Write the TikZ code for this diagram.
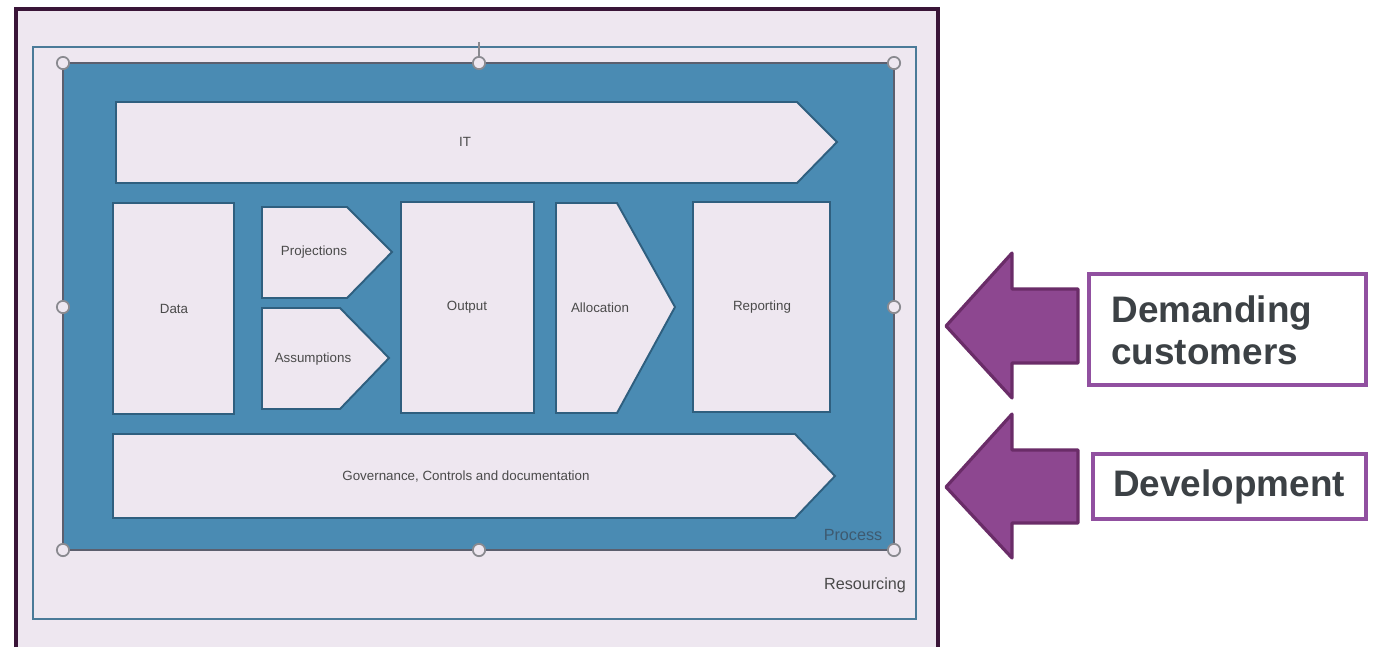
\documentclass[tikz,border=0pt]{standalone}
\usepackage{fontspec}
\setmainfont{Liberation Sans}
\begin{document}
\definecolor{lav}{HTML}{EEE7F0}
\definecolor{procblue}{HTML}{4A8BB3}
\definecolor{boxedge}{HTML}{2F5F7F}
\definecolor{frameedge}{HTML}{3A1538}
\definecolor{resedge}{HTML}{4A7A98}
\definecolor{procedge}{HTML}{5C5F6E}
\definecolor{handleedge}{HTML}{8A8A90}
\definecolor{lbl}{HTML}{4A4A4A}
\definecolor{proclbl}{HTML}{3E5A70}
\definecolor{arrfill}{HTML}{8D4790}
\definecolor{arredge}{HTML}{6A2C68}
\definecolor{tagedge}{HTML}{9150A0}
\definecolor{tagtext}{HTML}{3C4145}
\begin{tikzpicture}[x=0.02cm,y=-0.02cm,
  stagebox/.style={fill=lav,draw=boxedge,line width=1.1pt,line join=miter},
  handle/.style={circle,minimum size=7pt,inner sep=0pt,fill=lav,draw=handleedge,line width=1pt},
  smalllbl/.style={text=lbl,font=\fontsize{7.6}{9}\selectfont,inner sep=0pt},
  cornerlbl/.style={text=lbl,font=\fontsize{9.2}{11}\selectfont,inner sep=0pt},
  bigarrow/.style={fill=arrfill,draw=arredge,line width=1.8pt,line join=round},
  tagbox/.style={draw=tagedge,line width=2.2pt,fill=white},
  tagtxt/.style={text=tagtext,font=\bfseries\fontsize{21}{25}\selectfont,inner sep=0pt,align=left}]
\useasboundingbox (0,0) rectangle (1375,647);
\fill[white] (0,0) rectangle (1375,647);

% slide frame
\fill[lav] (16,9) rectangle (938,647);
\draw[frameedge,line width=2.8pt] (16,647) -- (16,9) -- (938,9) -- (938,647);

% resourcing frame
\draw[resedge,line width=1.2pt] (33,47) rectangle (916,619);

% process area
\draw[procedge,line width=1.1pt,fill=procblue] (63,63) rectangle (894,550);
\draw[handleedge,line width=0.6pt] (479,42) -- (479,57);

% stages
\draw[stagebox] (116,102) -- (797,102) -- (837,142) -- (797,183) -- (116,183) -- cycle;
\draw[stagebox] (113,203) rectangle (234,414);
\draw[stagebox] (262,207) -- (347,207) -- (392,252) -- (347,298) -- (262,298) -- cycle;
\draw[stagebox] (262,308) -- (340,308) -- (389,358) -- (340,409) -- (262,409) -- cycle;
\draw[stagebox] (401,202) rectangle (534,413);
\draw[stagebox] (556,203) -- (617,203) -- (675,307) -- (617,413) -- (556,413) -- cycle;
\draw[stagebox] (693,202) rectangle (830,412);
\draw[stagebox] (113,434) -- (795,434) -- (835,476) -- (795,518) -- (113,518) -- cycle;

\node[smalllbl] (it) at (465,142) {IT};
\node[smalllbl] (data) at (174,309) {Data};
\node[smalllbl] (proj) at (314,252) {Projections};
\node[smalllbl] (assum) at (313,359) {Assumptions};
\node[smalllbl] (out) at (467,307) {Output};
\node[smalllbl] (alloc) at (600,308) {Allocation};
\node[smalllbl] (rep) at (762,307) {Reporting};
\node[smalllbl] (gov) at (466,477) {Governance, Controls and documentation};
\node[cornerlbl,text=proclbl] (proc) at (853,535) {Process};
\node[cornerlbl] (res) at (865,585) {Resourcing};

% selection handles
\foreach \hx/\hy/\hn in {63/63/a,479/63/b,894/63/c,63/307/d,894/307/e,63/550/f,479/550/g,894/550/h}
  \node[handle] (h\hn) at (\hx,\hy) {};

% pressures from outside
\draw[bigarrow] (946,326) -- (1012,253) -- (1012,289) -- (1078,289) -- (1078,363) -- (1012,363) -- (1012,398) -- cycle;
\draw[bigarrow] (946,487) -- (1012,414) -- (1012,450) -- (1078,450) -- (1078,523) -- (1012,523) -- (1012,558) -- cycle;

\draw[tagbox] (1089,274) rectangle (1366,385);
\node[tagtxt,anchor=west] (cust) at (1111,330) {Demanding\\[-1pt]customers};
\draw[tagbox] (1093,454) rectangle (1366,519);
\node[tagtxt] (dev) at (1229,487) {Development};
\end{tikzpicture}
\end{document}
